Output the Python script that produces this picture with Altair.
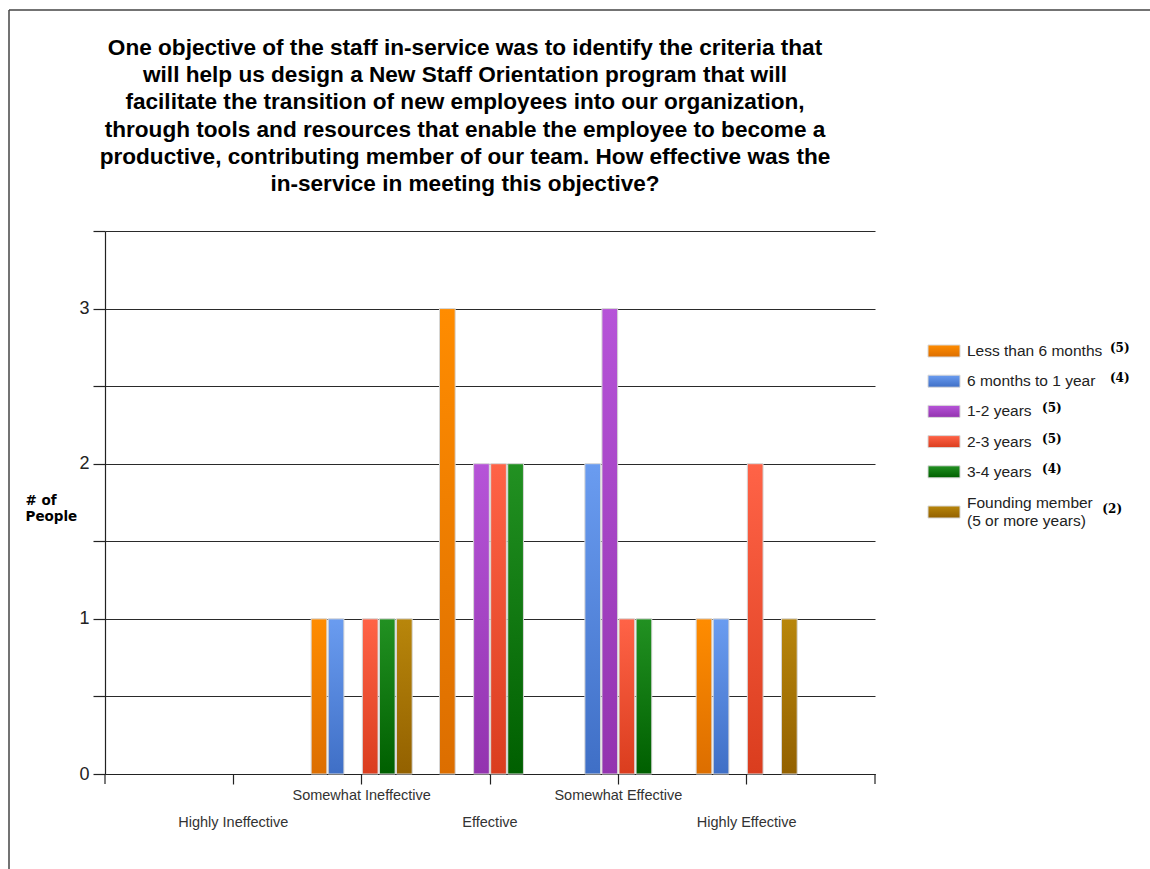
import altair as alt
import pandas as pd

# Response categories along the x axis
categories = [
    "Highly Ineffective",
    "Somewhat Ineffective",
    "Effective",
    "Somewhat Effective",
    "Highly Effective",
]

# Tenure groups (one bar per group within each category)
series = [
    "Less than 6 months",
    "6 months to 1 year",
    "1-2 years",
    "2-3 years",
    "3-4 years",
    "Founding member",
]
legend_labels = [
    "Less than 6 months",
    "6 months to 1 year",
    "1-2 years",
    "2-3 years",
    "3-4 years",
    "Founding member\n(5 or more years)",
]
legend_counts = ["(5)", "(4)", "(5)", "(5)", "(4)", "(2)"]

# Number of people per category, for each tenure group
less_6m = [0, 1, 3, 0, 1]
m6_to_1y = [0, 1, 0, 2, 1]
y1_2 = [0, 0, 2, 3, 0]
y2_3 = [0, 1, 2, 1, 2]
y3_4 = [0, 1, 2, 1, 0]
founding = [0, 1, 0, 0, 1]
counts = [less_6m, m6_to_1y, y1_2, y2_3, y3_4, founding]

# Top and bottom shade of each group's vertical gradient
top_colors = ["#FF8C00", "#6A9CF0", "#B654D8", "#FF6347", "#229122", "#B8860B"]
bottom_colors = ["#DC6E00", "#3F6FC6", "#9333AF", "#DA3D1E", "#005F00", "#936100"]

title_lines = [
    "One objective of the staff in-service was to identify the criteria that",
    "will help us design a New Staff Orientation program that will",
    "facilitate the transition of new employees into our organization,",
    "through tools and resources that enable the employee to become a",
    "productive, contributing member of our team. How effective was the",
    "in-service in meeting this objective?",
]

W, H = 770, 543

rows = []
for s, vals in zip(series, counts):
    for c, v in zip(categories, vals):
        if v > 0:
            rows.append({"category": c, "series": s, "people": v})
bars_df = pd.DataFrame(rows)

legend_df = pd.DataFrame(
    {
        "series": series,
        "label": legend_labels,
        "count": legend_counts,
        "row": list(range(len(series))),
    }
)


def gradient(i):
    return alt.Gradient(
        gradient="linear",
        stops=[
            alt.GradientStop(offset=0, color=top_colors[i]),
            alt.GradientStop(offset=1, color=bottom_colors[i]),
        ],
        x1=0, x2=0, y1=0, y2=1,
    )


x_axis = alt.Axis(
    title=None,
    labelAngle=0,
    labelFont="Liberation Sans",
    labelFontSize=14.5,
    labelColor="#333333",
    labelOverlap=False,
    labelPadding={
        "condition": {
            "test": "datum.value == 'Somewhat Ineffective' || datum.value == 'Somewhat Effective'",
            "value": 4,
        },
        "value": 31,
    },
    tickSize=10,
    tickColor="#222222",
    tickWidth=1.2,
    domainColor="#222222",
    domainWidth=1.2,
    bandPosition=0.5,
    grid=False,
)

y_axis = alt.Axis(
    values=[0, 0.5, 1, 1.5, 2, 2.5, 3, 3.5],
    labelExpr="datum.value % 1 === 0 ? format(datum.value, 'd') : ''",
    tickSize=12,
    tickColor="#222222",
    tickWidth=1.2,
    domainColor="#222222",
    domainWidth=1.2,
    grid=True,
    gridColor="#2A2A2A",
    gridWidth=1.2,
    labelFont="Liberation Sans",
    labelFontSize=18,
    labelColor="#222222",
    labelPadding=4,
    title=["# of", "People"],
    titleAngle=0,
    titleFont="DejaVu Sans",
    titleFontSize=13.5,
    titleFontWeight="bold",
    titleColor="#000000",
    titleAlign="left",
    titleBaseline="top",
    titleX=-80,
    titleY=262,
    titleLineHeight=16,
)

x_enc = alt.X(
    "category:N",
    scale=alt.Scale(domain=categories, paddingInner=0, paddingOuter=0.5),
    axis=x_axis,
)
xo_enc = alt.XOffset(
    "series:N",
    scale=alt.Scale(domain=series, paddingInner=0.08, paddingOuter=0.8),
)
y_enc = alt.Y(
    "people:Q",
    scale=alt.Scale(domain=[0, 3.5], nice=False, zero=True),
    axis=y_axis,
)

bar_layers = []
for i, s in enumerate(series):
    bar_layers.append(
        alt.Chart(bars_df)
        .transform_filter(alt.datum.series == s)
        .mark_bar(fill=gradient(i), stroke="#D6D6D6", strokeWidth=1)
        .encode(x=x_enc, xOffset=xo_enc, y=y_enc)
    )

dummy = pd.DataFrame({"d": [0]})
# Ticks closing both ends of the category axis
edge_left = alt.Chart(dummy).mark_rule(color="#222222", strokeWidth=1.2).encode(
    x=alt.value(0), y=alt.value(H), y2=alt.value(H + 10)
)
edge_right = alt.Chart(dummy).mark_rule(color="#222222", strokeWidth=1.2).encode(
    x=alt.value(W), y=alt.value(H), y2=alt.value(H + 10)
)
# Outer frame (top and left edges)
frame_top = alt.Chart(dummy).mark_rule(color="#444444", strokeWidth=1.5).encode(
    x=alt.value(-96), x2=alt.value(1045), y=alt.value(-221)
)
frame_left = alt.Chart(dummy).mark_rule(color="#444444", strokeWidth=1.5).encode(
    x=alt.value(-96), y=alt.value(-221), y2=alt.value(638)
)

# Question text above the plot
title_df = pd.DataFrame({"text": ["\n".join(title_lines)]})
title_mark = alt.Chart(title_df).mark_text(
    align="center",
    baseline="top",
    font="Liberation Sans",
    fontSize=22.6,
    fontWeight="bold",
    color="#000000",
    lineBreak="\n",
    lineHeight=27.2,
).encode(x=alt.value(360), y=alt.value(-194), text="text:N")

plot = alt.layer(*bar_layers, edge_left, edge_right, frame_top, frame_left, title_mark)

# Hand-built legend to the right of the plot
legend_base = alt.Chart(legend_df).transform_calculate(
    ly="120 + datum.row * 30.2 + (datum.row == 5 ? 10 : 0)",
    ty="120 + datum.row * 30.2 + (datum.row == 5 ? 1 : 0)",
    ly0="120 + datum.row * 30.2 + (datum.row == 5 ? 10 : 0) - 6",
    ly1="120 + datum.row * 30.2 + (datum.row == 5 ? 10 : 0) + 6",
    cx="862 + max(length(split(datum.label, '\\n')[0]), length(peek(split(datum.label, '\\n')))) * 7.55 + 7",
)

swatches = []
for i, s in enumerate(series):
    swatches.append(
        legend_base.transform_filter(alt.datum.series == s)
        .mark_rect(fill=gradient(i), stroke="#D8D8D8", strokeWidth=1)
        .encode(
            x=alt.value(823),
            x2=alt.value(855),
            y=alt.Y("ly0:Q", scale=None, axis=None),
            y2="ly1:Q",
        )
    )

legend_text = legend_base.mark_text(
    align="left",
    baseline="middle",
    font="Liberation Sans",
    fontSize=15.5,
    color="#222222",
    lineBreak="\n",
    lineHeight=18,
).encode(
    x=alt.value(862),
    y=alt.Y("ty:Q", scale=None, axis=None),
    text="label:N",
)

legend_count = legend_base.mark_text(
    align="left",
    baseline="middle",
    font="DejaVu Serif",
    fontWeight="bold",
    fontSize=12,
    dy=-3,
    color="#000000",
).encode(
    x=alt.X("cx:Q", scale=None, axis=None),
    y=alt.Y("ly:Q", scale=None, axis=None),
    text="count:N",
)

legend = alt.layer(*swatches, legend_text, legend_count)

chart = (
    alt.layer(plot, legend)
    .resolve_scale(x="independent", y="independent")
    .properties(
        width=W,
        height=H,
        autosize=alt.AutoSizeParams(type="none"),
        padding={"left": 105, "top": 231, "right": 275, "bottom": 95},
        background="white",
    )
    .configure_view(stroke=None)
)

chart.save("out.html", embed_options={"renderer": "svg", "actions": False})
